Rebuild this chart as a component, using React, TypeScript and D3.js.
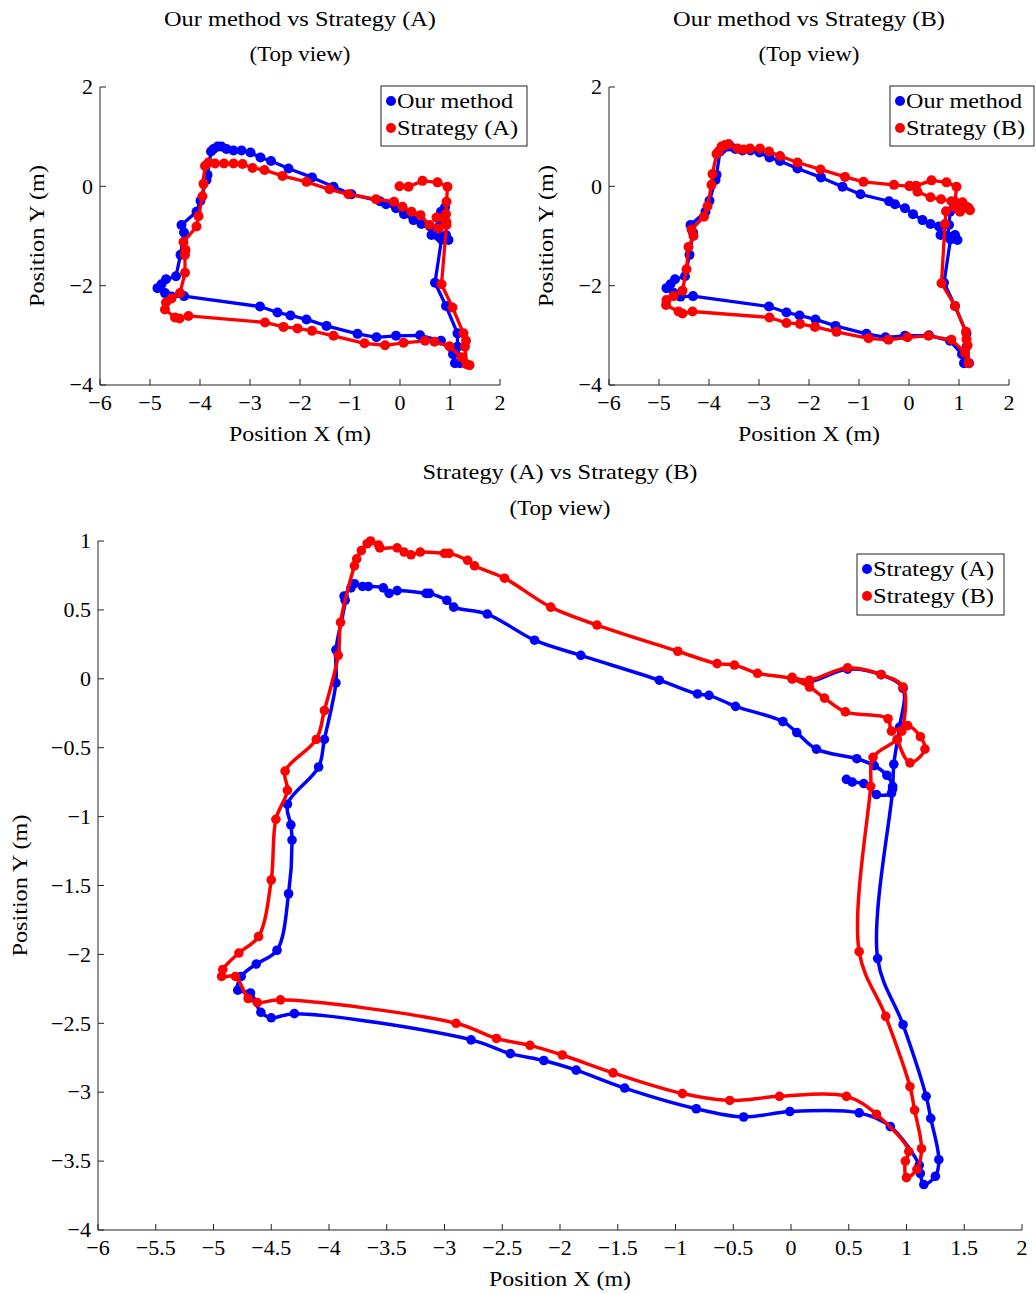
import React from "react";
import * as d3 from "d3";

type P = [number, number];

// ---------- Data (top panels) ----------
const ourMethod: P[] = [
  [0.90,-0.42],[0.82,-0.51],[0.80,-0.78],[0.77,-1.01],[0.83,-1.07],[0.70,-1.94],[0.92,-2.41],[1.15,-2.96],[1.15,-3.23],[1.20,-3.56],[1.10,-3.56],[1.06,-3.38],[0.82,-3.11],[0.40,-3.00],[-0.08,-3.01],[-0.47,-3.04],[-0.85,-2.97],[-1.47,-2.81],[-1.87,-2.68],[-2.19,-2.60],[-2.45,-2.54],[-2.80,-2.42],[-4.32,-2.21],[-4.57,-2.22],[-4.70,-2.15],[-4.85,-2.05],[-4.77,-1.97],[-4.68,-1.87],[-4.48,-1.81],[-4.39,-1.38],[-4.32,-0.93],[-4.37,-0.78],[-4.07,-0.51],[-3.99,-0.29],[-3.87,0.13],[-3.85,0.23],[-3.78,0.70],[-3.73,0.75],[-3.65,0.80],[-3.57,0.80],[-3.47,0.75],[-3.33,0.72],[-3.17,0.72],[-2.99,0.68],[-2.79,0.58],[-2.58,0.51],[-2.23,0.36],[-1.76,0.18],[-1.33,-0.01],[-0.97,-0.16],[-0.40,-0.30],[-0.28,-0.36],[-0.08,-0.44],[0.08,-0.56],[0.27,-0.68],[0.43,-0.76],[0.60,-0.81],[0.63,-0.98],[0.77,-1.00],[0.92,-0.98],[0.97,-1.08]
];

const strategyATop: P[] = [
  [-0.01,0.0],[0.17,-0.01],[0.45,0.11],[0.75,0.08],[0.95,-0.01],[0.93,-0.31],[0.92,-0.56],[0.93,-0.78],[0.83,-1.97],[1.05,-2.44],[1.27,-2.96],[1.32,-3.11],[1.30,-3.23],[1.33,-3.58],[1.39,-3.60],[1.23,-3.44],[0.99,-3.22],[0.69,-3.13],[0.50,-3.11],[0.07,-3.15],[-0.30,-3.20],[-0.71,-3.16],[-1.33,-3.01],[-1.76,-2.91],[-2.05,-2.86],[-2.33,-2.83],[-2.70,-2.74],[-4.23,-2.61],[-4.41,-2.66],[-4.50,-2.64],[-4.70,-2.48],[-4.68,-2.34],[-4.57,-2.26],[-4.40,-2.15],[-4.30,-1.74],[-4.30,-1.38],[-4.29,-1.28],[-4.33,-1.12],[-4.07,-0.81],[-4.03,-0.60],[-3.95,-0.20],[-3.93,0.05],[-3.90,0.41],[-3.83,0.48],[-3.70,0.46],[-3.52,0.46],[-3.33,0.46],[-3.15,0.45],[-2.95,0.37],[-2.71,0.33],[-2.35,0.21],[-1.87,0.09],[-1.41,-0.06],[-1.03,-0.16],[-0.48,-0.26],[-0.12,-0.31],[0.05,-0.41],[0.23,-0.51],[0.41,-0.58],[0.59,-0.78],[0.77,-0.85],[0.93,-0.72],[0.87,-0.64],[0.73,-0.63]
];

const strategyBTop: P[] = [
  [0.01,0.01],[0.14,0.01],[0.45,0.12],[0.75,0.08],[0.95,-0.01],[0.92,-0.31],[0.92,-0.41],[0.74,-0.50],[0.72,-0.76],[0.65,-1.95],[0.92,-2.41],[1.14,-2.93],[1.15,-3.08],[1.17,-3.20],[1.19,-3.56],[1.12,-3.35],[0.85,-3.09],[0.39,-3.01],[-0.03,-3.04],[-0.41,-3.09],[-0.81,-3.06],[-1.45,-2.93],[-1.88,-2.83],[-2.18,-2.77],[-2.45,-2.75],[-2.79,-2.64],[-4.33,-2.52],[-4.53,-2.56],[-4.61,-2.52],[-4.86,-2.39],[-4.85,-2.29],[-4.71,-2.21],[-4.53,-2.10],[-4.45,-1.67],[-4.41,-1.22],[-4.31,-1.00],[-4.35,-0.87],[-4.10,-0.61],[-4.03,-0.40],[-3.95,0.03],[-3.93,0.25],[-3.85,0.65],[-3.81,0.70],[-3.75,0.80],[-3.68,0.83],[-3.61,0.85],[-3.43,0.76],[-3.31,0.74],[-3.18,0.76],[-2.98,0.76],[-2.80,0.70],[-2.58,0.61],[-2.23,0.48],[-1.77,0.34],[-1.28,0.19],[-0.91,0.09],[-0.30,0.03],[0.01,0.00],[0.17,-0.11],[0.43,-0.22],[0.64,-0.26],[0.85,-0.30],[1.07,-0.32],[1.15,-0.41],[1.19,-0.43],[1.22,-0.48],[1.02,-0.51],[0.92,-0.41]
];

// ---------- Data (bottom panel) ----------
const strategyA: P[] = [
  [0.01,0.0],[0.16,-0.02],[0.49,0.07],[0.78,0.03],[0.97,-0.07],[0.94,-0.35],[0.89,-0.62],[0.88,-0.80],[0.75,-2.03],[0.97,-2.51],[1.17,-3.03],[1.21,-3.19],[1.28,-3.49],[1.25,-3.61],[1.15,-3.67],[1.12,-3.59],[1.11,-3.53],[0.86,-3.25],[0.59,-3.15],[-0.01,-3.14],[-0.41,-3.18],[-0.82,-3.12],[-1.44,-2.97],[-1.86,-2.84],[-2.14,-2.77],[-2.43,-2.72],[-2.77,-2.62],[-4.30,-2.43],[-4.50,-2.46],[-4.59,-2.42],[-4.68,-2.28],[-4.79,-2.26],[-4.76,-2.16],[-4.63,-2.07],[-4.45,-1.97],[-4.35,-1.56],[-4.32,-1.17],[-4.33,-1.06],[-4.36,-0.91],[-4.09,-0.64],[-4.04,-0.44],[-3.94,-0.03],[-3.94,0.21],[-3.86,0.57],[-3.87,0.60],[-3.81,0.66],[-3.78,0.69],[-3.71,0.67],[-3.66,0.67],[-3.53,0.66],[-3.48,0.62],[-3.41,0.64],[-3.16,0.62],[-3.13,0.62],[-2.98,0.57],[-2.92,0.52],[-2.63,0.47],[-2.22,0.28],[-1.82,0.17],[-1.14,-0.01],[-0.81,-0.11],[-0.71,-0.12],[-0.48,-0.20],[-0.07,-0.31],[0.05,-0.39],[0.22,-0.51],[0.57,-0.58],[0.72,-0.63],[0.83,-0.70],[0.88,-0.78],[0.87,-0.83],[0.74,-0.84],[0.63,-0.76],[0.53,-0.75],[0.48,-0.73]
];

const strategyB: P[] = [
  [0.01,0.01],[0.16,-0.01],[0.49,0.08],[0.78,0.03],[0.97,-0.06],[0.96,-0.38],[0.92,-0.44],[0.71,-0.57],[0.69,-0.78],[0.59,-1.98],[0.82,-2.45],[1.03,-2.96],[1.07,-3.13],[1.13,-3.41],[1.09,-3.56],[1.00,-3.62],[0.99,-3.50],[1.02,-3.43],[0.74,-3.16],[0.48,-3.03],[-0.10,-3.03],[-0.53,-3.06],[-0.94,-3.01],[-1.54,-2.86],[-1.98,-2.73],[-2.26,-2.66],[-2.55,-2.61],[-2.90,-2.50],[-4.42,-2.33],[-4.62,-2.35],[-4.70,-2.32],[-4.81,-2.16],[-4.93,-2.16],[-4.92,-2.11],[-4.78,-1.99],[-4.61,-1.87],[-4.50,-1.46],[-4.46,-1.02],[-4.36,-0.81],[-4.38,-0.67],[-4.11,-0.44],[-4.04,-0.23],[-3.92,0.17],[-3.90,0.41],[-3.78,0.82],[-3.76,0.87],[-3.72,0.93],[-3.67,0.98],[-3.64,1.00],[-3.57,0.97],[-3.56,0.95],[-3.41,0.95],[-3.35,0.92],[-3.29,0.90],[-3.21,0.92],[-3.00,0.91],[-2.96,0.91],[-2.80,0.86],[-2.74,0.82],[-2.48,0.73],[-2.08,0.52],[-1.68,0.39],[-0.98,0.20],[-0.64,0.11],[-0.49,0.10],[-0.29,0.04],[0.01,0.00],[0.16,-0.06],[0.29,-0.14],[0.47,-0.24],[0.84,-0.29],[0.87,-0.38],[1.01,-0.34],[1.12,-0.42],[1.16,-0.51],[1.03,-0.61],[0.92,-0.44]
];

// ---------- Ticks ----------
const topXTicks = [-6, -5, -4, -3, -2, -1, 0, 1, 2];
const topYTicks = [-4, -2, 0, 2];
const bottomXTicks = [-6, -5.5, -5, -4.5, -4, -3.5, -3, -2.5, -2, -1.5, -1, -0.5, 0, 0.5, 1, 1.5, 2];
const bottomYTicks = [-4, -3.5, -3, -2.5, -2, -1.5, -1, -0.5, 0, 0.5, 1];

const FONT = "'Liberation Serif', 'Times New Roman', serif";
const FS = 21;
const TICK_FS = 22;

const fmt = (v: number) => (v < 0 ? "\u2212" : "") + String(Math.abs(v));

interface SeriesDef { data: P[]; color: string; label: string }

interface PanelProps {
  left: number; right: number; top: number; bottom: number;
  xDomain: [number, number]; yDomain: [number, number];
  xTicks: number[]; yTicks: number[];
  series: SeriesDef[];
  title: string; titleLen: number; titleY: number; subY: number;
  xLabelY: number; yLabelX: number;
  legend: { x: number; y: number; w: number; h: number; lens: number[] };
  smooth: boolean; lw: number; r: number;
}

function Panel(p: PanelProps) {
  const x = d3.scaleLinear().domain(p.xDomain).range([p.left, p.right]);
  const y = d3.scaleLinear().domain(p.yDomain).range([p.bottom, p.top]);
  const line = d3.line<P>().x(d => x(d[0])).y(d => y(d[1]))
    .curve(p.smooth ? d3.curveCatmullRom.alpha(0.5) : d3.curveLinear);
  const cx = (p.left + p.right) / 2;
  const cy = (p.top + p.bottom) / 2;
  return (
    <g fontFamily={FONT} fontSize={FS} fill="#000">
      <text x={cx} y={p.titleY} textAnchor="middle" textLength={p.titleLen} lengthAdjust="spacingAndGlyphs">{p.title}</text>
      <text x={cx} y={p.subY} textAnchor="middle" textLength={101} lengthAdjust="spacingAndGlyphs">(Top view)</text>
      {p.series.map((s, i) => (
        <g key={i}>
          <path d={line(s.data) || ""} fill="none" stroke={s.color} strokeWidth={p.lw} strokeLinejoin="round" strokeLinecap="round" />
          {s.data.map((d, j) => (
            <circle key={j} cx={x(d[0])} cy={y(d[1])} r={p.r} fill={s.color} />
          ))}
        </g>
      ))}
      <line x1={p.left} x2={p.right} y1={p.bottom} y2={p.bottom} stroke="#222" strokeWidth={1} />
      <line x1={p.left} x2={p.left} y1={p.bottom} y2={p.top} stroke="#222" strokeWidth={1} />
      {p.xTicks.map(t => (
        <g key={"x" + t}>
          <line x1={x(t)} x2={x(t)} y1={p.bottom} y2={p.bottom - 6} stroke="#222" strokeWidth={1} />
          <text x={x(t)} y={p.bottom + 25} textAnchor="middle" fontSize={TICK_FS}>{fmt(t)}</text>
        </g>
      ))}
      {p.yTicks.map(t => (
        <g key={"y" + t}>
          <line x1={p.left} x2={p.left + 6} y1={y(t)} y2={y(t)} stroke="#222" strokeWidth={1} />
          <text x={p.left - 7} y={y(t)} dy="0.33em" textAnchor="end" fontSize={TICK_FS}>{fmt(t)}</text>
        </g>
      ))}
      <text x={cx} y={p.xLabelY} textAnchor="middle" textLength={142} lengthAdjust="spacingAndGlyphs">Position X (m)</text>
      <text transform={`translate(${p.yLabelX},${cy}) rotate(-90)`} textAnchor="middle" textLength={142} lengthAdjust="spacingAndGlyphs">Position Y (m)</text>
      <g>
        <rect x={p.legend.x} y={p.legend.y} width={p.legend.w} height={p.legend.h} fill="#fff" stroke="#222" strokeWidth={1} />
        {p.series.map((s, i) => {
          const ly = p.legend.y + 15 + i * 27;
          return (
            <g key={"l" + i}>
              <circle cx={p.legend.x + 10} cy={ly} r={5} fill={s.color} />
              <text x={p.legend.x + 16} y={ly + 7} textLength={p.legend.lens[i]} lengthAdjust="spacingAndGlyphs">{s.label}</text>
            </g>
          );
        })}
      </g>
    </g>
  );
}

export default function App() {
  return (
    <svg width={1036} height={1294} style={{ position: "absolute", left: 0, top: 0, background: "#fff" }}>
      <rect x={0} y={0} width={1036} height={1294} fill="#fff" />
      <Panel
        left={100} right={500} top={87} bottom={385}
        xDomain={[-6, 2]} yDomain={[-4, 2]}
        xTicks={topXTicks} yTicks={topYTicks}
        series={[
          { data: ourMethod, color: "#0000ff", label: "Our method" },
          { data: strategyATop, color: "#ff0000", label: "Strategy (A)" },
        ]}
        title="Our method vs Strategy (A)" titleLen={272} titleY={26} subY={61}
        xLabelY={441} yLabelX={44}
        legend={{ x: 381, y: 86, w: 146, h: 60, lens: [116, 121] }}
        smooth={false} lw={3.3} r={5}
      />
      <Panel
        left={609} right={1009} top={87} bottom={385}
        xDomain={[-6, 2]} yDomain={[-4, 2]}
        xTicks={topXTicks} yTicks={topYTicks}
        series={[
          { data: ourMethod, color: "#0000ff", label: "Our method" },
          { data: strategyBTop, color: "#ff0000", label: "Strategy (B)" },
        ]}
        title="Our method vs Strategy (B)" titleLen={272} titleY={26} subY={61}
        xLabelY={441} yLabelX={553}
        legend={{ x: 890, y: 86, w: 144, h: 60, lens: [116, 119] }}
        smooth={false} lw={3.3} r={5}
      />
      <Panel
        left={98} right={1022} top={541} bottom={1230}
        xDomain={[-6, 2]} yDomain={[-4, 1]}
        xTicks={bottomXTicks} yTicks={bottomYTicks}
        series={[
          { data: strategyA, color: "#0000ff", label: "Strategy (A)" },
          { data: strategyB, color: "#ff0000", label: "Strategy (B)" },
        ]}
        title="Strategy (A) vs Strategy (B)" titleLen={275} titleY={479} subY={515}
        xLabelY={1286} yLabelX={27}
        legend={{ x: 857, y: 554, w: 147, h: 61, lens: [121, 121] }}
        smooth={true} lw={3.5} r={4.8}
      />
    </svg>
  );
}
